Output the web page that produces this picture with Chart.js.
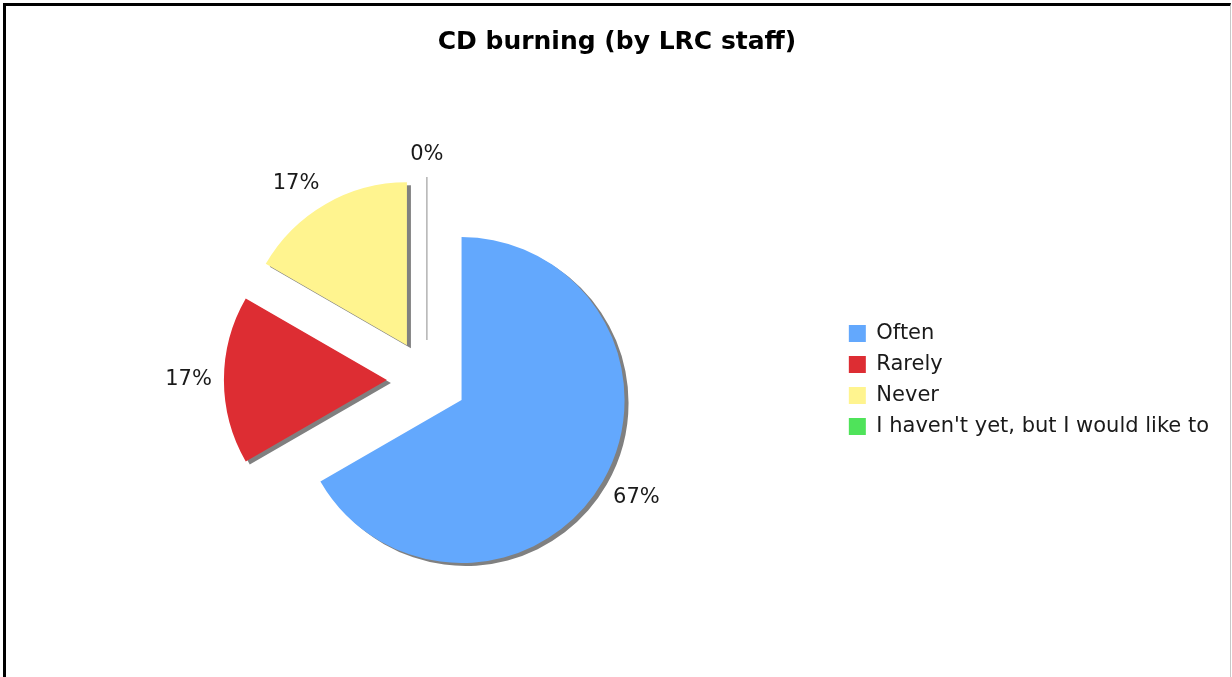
<!DOCTYPE html>
<html><head><meta charset="utf-8">
<script src="https://cdn.jsdelivr.net/npm/chart.js@4"></script>
<style>
html,body{margin:0;padding:0;background:#fff;overflow:hidden;}
#wrap{position:absolute;left:0;top:0;width:1232px;height:677px;}
#c{position:absolute;left:0;top:0;}
#frame{position:absolute;left:3px;top:3px;width:1224px;height:740px;border-top:3px solid #000;border-left:3px solid #000;border-right:1px solid #c8c8c8;pointer-events:none;}
</style></head>
<body>
<div id="wrap"><canvas id="c" width="1232" height="677" style="width:1232px;height:677px"></canvas><div id="frame"></div></div>
<script>
const categories = ["Often", "Rarely", "Never", "I haven't yet, but I would like to"];
const responses = [4, 1, 1, 0];
const sliceColors = ['#63A8FD', '#DD2D33', '#FFF48F', '#4FE35A'];
const chartTitle = 'CD burning (by LRC staff)';

const EXPLODE = 40;
const LABEL_GAP = 12;
const FONT = '"DejaVu Sans", Verdana, sans-serif';

const explodePlugin = {
  id: 'explode',
  beforeDatasetDraw(chart, args) {
    const ctx = chart.ctx;
    args.meta.data.forEach((arc) => {
      const mid = (arc.startAngle + arc.endAngle) / 2;
      ctx.save();
      ctx.translate(Math.cos(mid) * EXPLODE, Math.sin(mid) * EXPLODE);
      if (arc.circumference === 0) {
        ctx.strokeStyle = '#8c8c8c';
        ctx.lineWidth = 1;
        ctx.beginPath();
        ctx.moveTo(arc.x, arc.y);
        ctx.lineTo(arc.x + Math.cos(mid) * arc.outerRadius, arc.y + Math.sin(mid) * arc.outerRadius);
        ctx.stroke();
      } else {
        ctx.shadowColor = '#808080';
        ctx.shadowOffsetX = 4;
        ctx.shadowOffsetY = 3;
        ctx.shadowBlur = 0;
        arc.draw(ctx, chart.chartArea);
      }
      ctx.restore();
    });
    return false;
  }
};

const pctLabels = {
  id: 'pctLabels',
  afterDatasetsDraw(chart) {
    const meta = chart.getDatasetMeta(0);
    const ctx = chart.ctx;
    const total = responses.reduce((a, b) => a + b, 0);
    ctx.save();
    ctx.font = '21px ' + FONT;
    ctx.fillStyle = '#1a1a1a';
    ctx.textAlign = 'center';
    ctx.textBaseline = 'middle';
    meta.data.forEach((arc, i) => {
      const mid = (arc.startAngle + arc.endAngle) / 2;
      const cx = arc.x + Math.cos(mid) * EXPLODE;
      const cy = arc.y + Math.sin(mid) * EXPLODE;
      const r = arc.outerRadius + LABEL_GAP;
      const px = cx + Math.cos(mid) * r;
      const py = cy + Math.sin(mid) * r;
      const txt = Math.round(responses[i] / total * 100) + '%';
      const w = ctx.measureText(txt).width, h = 20;
      const sx = Math.abs(Math.cos(mid)) < 0.15 ? 0 : Math.sign(Math.cos(mid));
      const sy = Math.abs(Math.sin(mid)) < 0.15 ? 0 : Math.sign(Math.sin(mid));
      ctx.fillText(txt, px + sx * w / 2, py + sy * h / 2);
    });
    ctx.restore();
  }
};

new Chart(document.getElementById('c'), {
  type: 'pie',
  data: {
    labels: categories,
    datasets: [{
      data: responses,
      backgroundColor: sliceColors,
      borderWidth: 0,
      radius: 163
    }]
  },
  options: {
    responsive: false,
    animation: false,
    events: [],
    layout: { padding: { left: 15, right: 13, top: 0, bottom: 0 } },
    plugins: {
      title: {
        display: true,
        text: chartTitle,
        color: '#000',
        font: { family: FONT, size: 25, weight: 'bold' },
        padding: { top: 27, bottom: 26 }
      },
      legend: {
        position: 'right',
        fullSize: false,
        labels: {
          boxWidth: 17,
          boxHeight: 17,
          padding: 10,
          color: '#1a1a1a',
          font: { family: FONT, size: 21 }
        }
      },
      tooltip: { enabled: false }
    }
  },
  plugins: [explodePlugin, pctLabels]
});
</script>
</body></html>
